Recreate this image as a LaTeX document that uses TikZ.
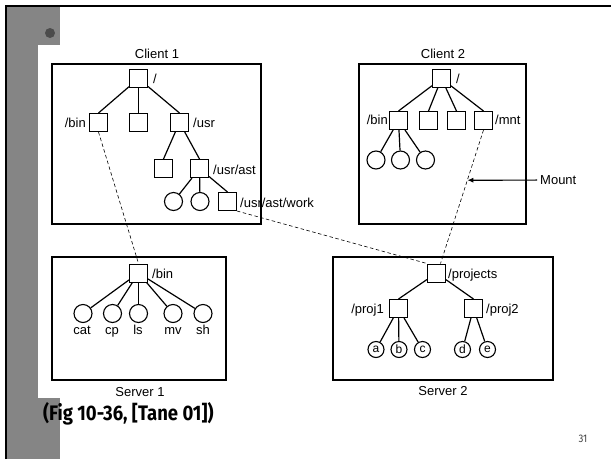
\documentclass[tikz,border=0pt]{standalone}
\usepackage{fontspec}
\setmainfont{Liberation Sans}
\newfontfamily\capfont[FakeStretch=0.88]{Fira Sans}
\usetikzlibrary{arrows.meta}
\begin{document}
\begin{tikzpicture}[x=1pt,y=-1pt,
  sq/.style={draw, line width=1pt, minimum size=18pt, inner sep=0pt, fill=white},
  cir/.style={draw, circle, line width=1.1pt, minimum size=18pt, inner sep=0pt},
  smc/.style={draw, circle, line width=1.1pt, minimum size=16pt, inner sep=0pt, font=\fontsize{12}{12}\selectfont},
  frame/.style={draw, line width=1.3pt},
  edge/.style={line width=1.2pt},
  lbl/.style={font=\fontsize{13}{13}\selectfont, inner sep=0pt},
  mnt/.style={dash pattern=on 3.5pt off 2.5pt, line width=0.6pt},
  tex/.style={fill=black!48}
]
\useasboundingbox (0,0) rectangle (611,459);
% slide background
\fill[white] (0,0) rectangle (611,459);
\fill[tex] (6,6) rectangle (60,45);
\fill[tex] (6,6) rectangle (38,459);
\fill[tex] (6,398) rectangle (60,459);
\fill[black!70] (50,33) circle (5);
\draw[line width=2pt] (5.7,459) -- (5.7,5.7) -- (611,5.7);

% frames
\draw[frame] (52,64) rectangle (261,224);
\draw[frame] (359,64) rectangle (526,224);
\draw[frame] (52,257) rectangle (226,380);
\draw[frame] (333,257) rectangle (553,380);
\node[lbl, anchor=base] (t1) at (157,58.5) {Client 1};
\node[lbl, anchor=base] (t2) at (443,58.5) {Client 2};
\node[lbl, anchor=base] (t3) at (140,396.5) {Server 1};
\node[lbl, anchor=base] (t4) at (443,395.5) {Server 2};

% Client 1
\node[sq] (r1) at (138.5,78.5) {};
\node[sq] (b1) at (98.5,122.5) {};
\node[sq] (m1) at (138.5,122.5) {};
\node[sq] (u1) at (179.5,122.5) {};
\node[sq] (x1) at (163.5,168.5) {};
\node[sq] (a1) at (199.5,168.5) {};
\node[cir] (c11) at (173.5,201.5) {};
\node[cir] (c12) at (200,201.5) {};
\node[sq] (w1) at (227.5,201.5) {};
\node[lbl, anchor=base west] (lr1) at (153,83.5) {/};
\node[lbl, anchor=base east] (lb1) at (86,127.5) {/bin};
\node[lbl, anchor=base west] (lu1) at (193,127.5) {/usr};
\node[lbl, anchor=base west] (la1) at (213,174.5) {/usr/ast};
\node[lbl, anchor=base west] (lw1) at (240,207.5) {/usr/ast/work};
\draw[edge] (r1) -- (b1.north);
\draw[edge] (r1) -- (m1.north);
\draw[edge] (r1) -- (u1.north);
\draw[edge] (u1) -- (x1.north);
\draw[edge] (u1) -- (a1.north);
\draw[edge] (a1) -- (c11);
\draw[edge] (a1) -- (c12);
\draw[edge] (a1) -- (w1.north);

% Client 2
\node[sq] (r2) at (441.5,78.5) {};
\node[sq] (b2) at (398.5,120.5) {};
\node[sq] (s22) at (428.5,120.5) {};
\node[sq] (s23) at (456.5,120.5) {};
\node[sq] (mn) at (483.5,120.5) {};
\node[cir] (c21) at (376,160) {};
\node[cir] (c22) at (400.5,160) {};
\node[cir] (c23) at (425.5,160) {};
\node[lbl, anchor=base west] (lr2) at (456,83.5) {/};
\node[lbl, anchor=base east] (lb2) at (388,124.5) {/bin};
\node[lbl, anchor=base west] (lm2) at (495,124.5) {/mnt};
\draw[edge] (r2) -- (b2.north);
\draw[edge] (r2) -- (s22.north);
\draw[edge] (r2) -- (s23.north);
\draw[edge] (r2) -- (mn.north);
\draw[edge] (b2) -- (c21);
\draw[edge] (b2) -- (c22);
\draw[edge] (b2) -- (c23);

% Server 1
\node[sq] (sb) at (138.5,273) {};
\node[lbl, anchor=base west] (lsb) at (152,278.5) {/bin};
\node[cir] (f1) at (83,313.5) {};
\node[cir] (f2) at (112.5,313.5) {};
\node[cir] (f3) at (138.5,313.5) {};
\node[cir] (f4) at (173,313.5) {};
\node[cir] (f5) at (203,313.5) {};
\node[lbl, anchor=base] (lf1) at (82,334.5) {cat};
\node[lbl, anchor=base] (lf2) at (112,334.5) {cp};
\node[lbl, anchor=base] (lf3) at (138,334.5) {ls};
\node[lbl, anchor=base] (lf4) at (173,334.5) {mv};
\node[lbl, anchor=base] (lf5) at (203,334.5) {sh};
\foreach \c in {f1,f2,f3,f4,f5} \draw[edge] (sb) -- (\c);

% Server 2
\node[sq] (pj) at (436.5,273) {};
\node[lbl, anchor=base west] (lpj) at (448,278.5) {/projects};
\node[sq] (p1) at (398.5,308.5) {};
\node[sq] (p2) at (473.5,308.5) {};
\node[lbl, anchor=base east] (lp1) at (384,313.5) {/proj1};
\node[lbl, anchor=base west] (lp2) at (486,313.5) {/proj2};
\node[smc] (ca) at (376,349.5) {a};
\node[smc] (cb) at (399,349.5) {b};
\node[smc] (cc) at (422.5,349.5) {c};
\node[smc] (cd) at (462.5,349.5) {d};
\node[smc] (ce) at (487.5,349.5) {e};
\draw[edge] (pj) -- (p1.north);
\draw[edge] (pj) -- (p2.north);
\draw[edge] (p1) -- (ca);
\draw[edge] (p1) -- (cb);
\draw[edge] (p1) -- (cc);
\draw[edge] (p2) -- (cd);
\draw[edge] (p2) -- (ce);

% mounts
\draw[mnt] (b1.south) -- (sb.north);
\draw[mnt] (w1.south east) -- (pj.north west);
\draw[mnt] (mn.south) -- coordinate[pos=0.376] (mp) ([xshift=4pt]pj.north);
\node[lbl, anchor=base west] (mlbl) at (540,184.5) {Mount};
\draw[line width=1.2pt, -{Latex[length=6pt,width=5pt]}] ([xshift=-3pt]mlbl.west) -- (mp);

% caption and page number
\node[anchor=base west, inner sep=0pt, font=\capfont\bfseries\fontsize{21}{21}\selectfont] (cap) at (43,420) {(Fig 10-36, [Tane 01])};
\node[inner sep=0pt, text=black!75, font=\capfont\fontsize{11}{11}\selectfont] (pg) at (583,439) {31};
\end{tikzpicture}
\end{document}
